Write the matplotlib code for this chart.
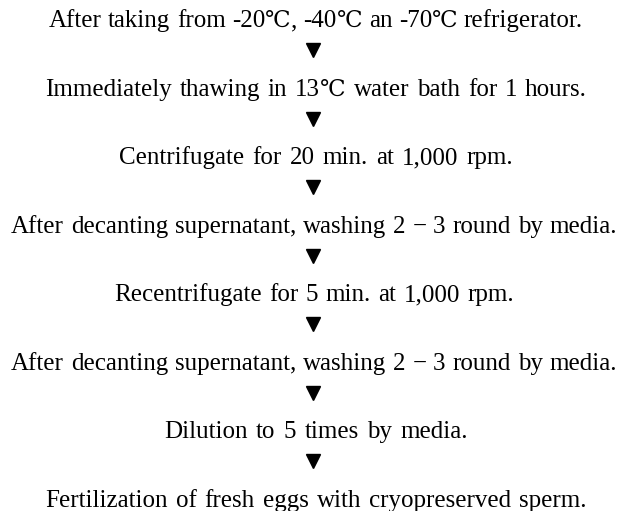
import matplotlib
matplotlib.use("Agg")
import numpy as np
from matplotlib import pyplot as plt

# flow steps, top to bottom
steps = [
    "After taking from -20\u2103, -40\u2103 an -70\u2103 refrigerator.",
    "Immediately thawing in 13\u2103 water bath for 1 hours.",
    "Centrifugate for 20 min. at 1,000 rpm.",
    "After decanting supernatant, washing 2 \u2212 3 round by media.",
    "Recentrifugate for 5 min. at 1,000 rpm.",
    "After decanting supernatant, washing 2 \u2212 3 round by media.",
    "Dilution to 5 times by media.",
    "Fertilization of fresh eggs with cryopreserved sperm.",
]

# measured left / right edge of each printed line (pixels)
line_left = [49, 45, 119, 11, 114, 11, 164, 45]
line_right = [583, 587, 513, 617, 514, 617, 468, 587]

W, H = 622, 511
fig = plt.figure(figsize=(W / 100, H / 100), dpi=100)
ax = fig.add_axes([0, 0, 1, 1])
ax.set_xlim(0, W)
ax.set_ylim(H, 0)
ax.axis("off")

renderer = fig.canvas.get_renderer()
DEG = "\u2103"


def word_pieces(word, y):
    """split a word so the degree sign gets its own font"""
    parts = []
    for k, chunk in enumerate(word.split(DEG)):
        if k > 0:
            parts.append(ax.text(0, y, DEG, ha="left", va="baseline",
                                 fontsize=16.5, family="DejaVu Serif",
                                 color="black"))
        if chunk:
            parts.append(ax.text(0, y, chunk, ha="left", va="baseline",
                                 fontsize=18, family="Liberation Serif",
                                 color="black"))
    return parts


top, gap = 27, 68.57
for i, s in enumerate(steps):
    y = top + i * gap
    words = [word_pieces(w, y) for w in s.split(" ")]
    widths = [[p.get_window_extent(renderer).width for p in w] for w in words]
    total = sum(sum(w) for w in widths)
    sp = (line_right[i] - line_left[i] - total) / max(len(words) - 1, 1)
    x = line_left[i]
    for parts, ws in zip(words, widths):
        for p, w in zip(parts, ws):
            p.set_x(x)
            x += w
        x += sp
    if i < len(steps) - 1:
        ax.plot(312.5, y + 23, marker="v", markersize=9.5,
                color="black", linestyle="none")

fig.savefig("out.png", dpi=100, facecolor="white")
